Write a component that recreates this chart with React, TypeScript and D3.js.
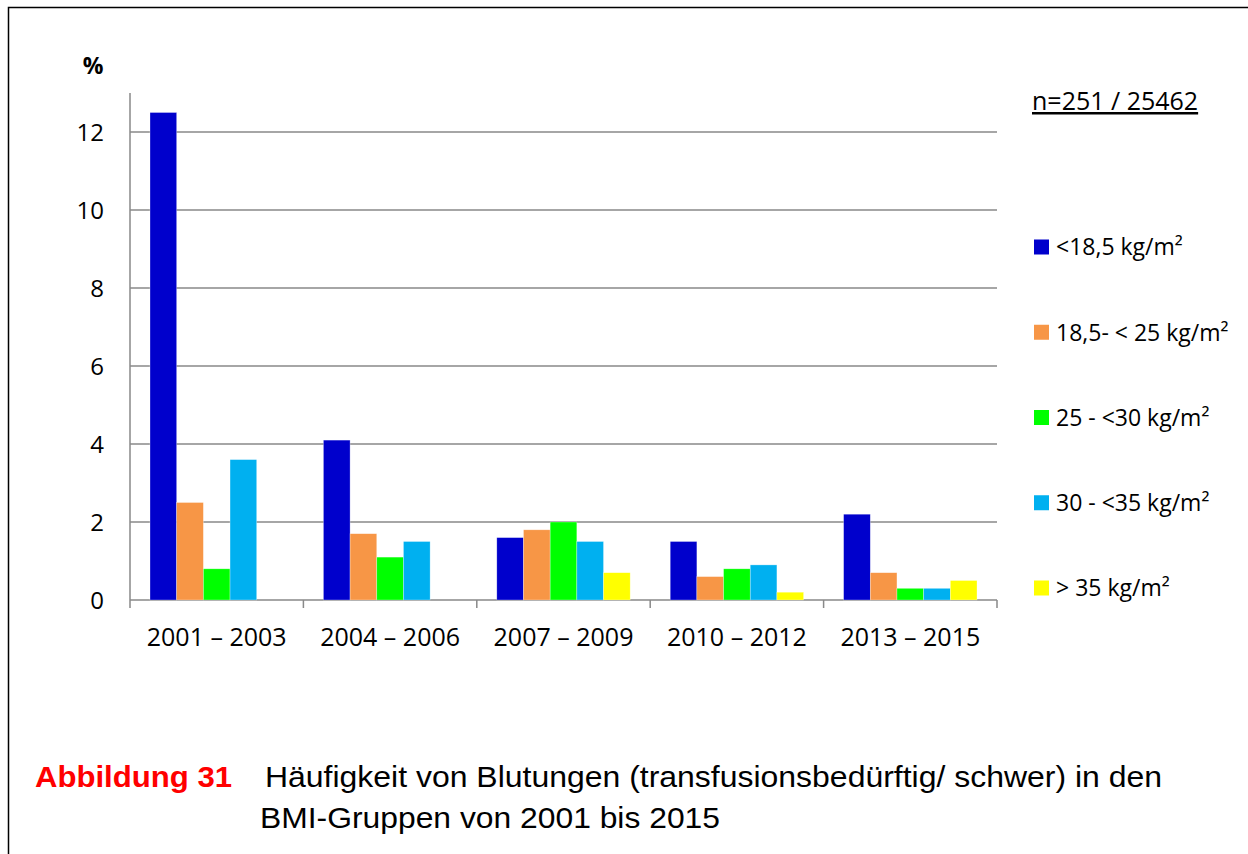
import React from "react";
import * as d3 from "d3";

const categories = ["2001 – 2003", "2004 – 2006", "2007 – 2009", "2010 – 2012", "2013 – 2015"];
const seriesNames = ["<18,5 kg/m²", "18,5- < 25 kg/m²", "25 - <30 kg/m²", "30 - <35 kg/m²", "> 35 kg/m²"];
const seriesColors = ["#0000CC", "#F79646", "#00FF00", "#00B0F0", "#FFFF00"];
const s1 = [12.5, 4.1, 1.6, 1.5, 2.2];
const s2 = [2.5, 1.7, 1.8, 0.6, 0.7];
const s3 = [0.8, 1.1, 2.0, 0.8, 0.3];
const s4 = [3.6, 1.5, 1.5, 0.9, 0.3];
const s5 = [0, 0, 0.7, 0.2, 0.5];
const seriesValues = [s1, s2, s3, s4, s5];
const yTicks = [0, 2, 4, 6, 8, 10, 12];

const W = 1248;
const H = 854;
const CHART_FONT = "'Open Sans', sans-serif";
const CAP_FONT = "'Liberation Sans', Arial, sans-serif";

export default function App() {
  const x0 = d3.scaleBand<string>().domain(categories).range([130, 997]).paddingInner(0).paddingOuter(0);
  const x1 = d3
    .scaleBand<string>()
    .domain(seriesNames)
    .range([0, x0.bandwidth()])
    .paddingInner(0)
    .paddingOuter(0.75);
  const y = d3.scaleLinear().domain([0, 13]).range([600, 93]);
  const grid = "#898989";

  const legendY = d3.scalePoint<string>().domain(seriesNames).range([247, 588]);

  return (
    <svg
      width={W}
      height={H}
      style={{ position: "absolute", left: 0, top: 0, background: "#fff" }}
    >
      <rect x={0} y={0} width={W} height={H} fill="#fff" />
      <rect x={8.5} y={7.5} width={W + 40} height={H + 40} fill="none" stroke="#000" strokeWidth={1.5} />

      {yTicks.map((t) => (
        <line key={"g" + t} x1={130} x2={997} y1={y(t)} y2={y(t)} stroke={grid} strokeWidth={1.5} />
      ))}
      <line x1={130} x2={130} y1={y(13)} y2={608} stroke={grid} strokeWidth={1.5} />
      {categories.map((c) => (
        <line key={"t" + c} x1={x0(c)! + x0.bandwidth()} x2={x0(c)! + x0.bandwidth()} y1={600} y2={608} stroke={grid} strokeWidth={1.5} />
      ))}

      {seriesNames.map((s, si) =>
        categories.map((c, ci) => {
          const v = seriesValues[si][ci];
          if (!v) return null;
          return (
            <rect
              key={s + c}
              x={x0(c)! + x1(s)!}
              y={y(v)}
              width={x1.bandwidth()}
              height={y(0) - y(v)}
              fill={seriesColors[si]}
              stroke="#ffffff"
              strokeOpacity={0.5}
              strokeWidth={0.6}
            />
          );
        })
      )}

      {yTicks.map((t) => (
        <text key={"l" + t} x={104} y={y(t)} dy="0.36em" textAnchor="end" fontFamily={CHART_FONT} fontSize={24} fill="#000">
          {t}
        </text>
      ))}
      <text x={93} y={74} textAnchor="middle" fontFamily={CHART_FONT} fontSize={23} fontWeight="bold" fill="#000">
        %
      </text>

      {categories.map((c) => (
        <text key={"c" + c} x={x0(c)! + x0.bandwidth() / 2} y={637} dy="0.36em" textAnchor="middle" fontFamily={CHART_FONT} fontSize={25} fill="#000">
          {c}
        </text>
      ))}

      <text x={1032} y={101} dy="0.36em" fontFamily={CHART_FONT} fontSize={25} fill="#000" textDecoration="underline">
        n=251 / 25462
      </text>

      {seriesNames.map((s, i) => (
        <g key={"lg" + s}>
          <rect x={1034} y={legendY(s)! - 7.5} width={15} height={15} fill={seriesColors[i]} />
          <text x={1056} y={legendY(s)!} dy="0.36em" fontFamily={CHART_FONT} fontSize={23} fill="#000">
            {s}
          </text>
        </g>
      ))}

      <text x={35} y={787} fontFamily={CAP_FONT} fontSize={30} fontWeight="bold" fill="#FF0000" textLength={197} lengthAdjust="spacingAndGlyphs">
        Abbildung 31
      </text>
      <text x={265} y={787} fontFamily={CAP_FONT} fontSize={30} fill="#000" textLength={897} lengthAdjust="spacingAndGlyphs">
        Häufigkeit von Blutungen (transfusionsbedürftig/ schwer) in den
      </text>
      <text x={260} y={828} fontFamily={CAP_FONT} fontSize={30} fill="#000" textLength={460} lengthAdjust="spacingAndGlyphs">
        BMI-Gruppen von 2001 bis 2015
      </text>
    </svg>
  );
}
